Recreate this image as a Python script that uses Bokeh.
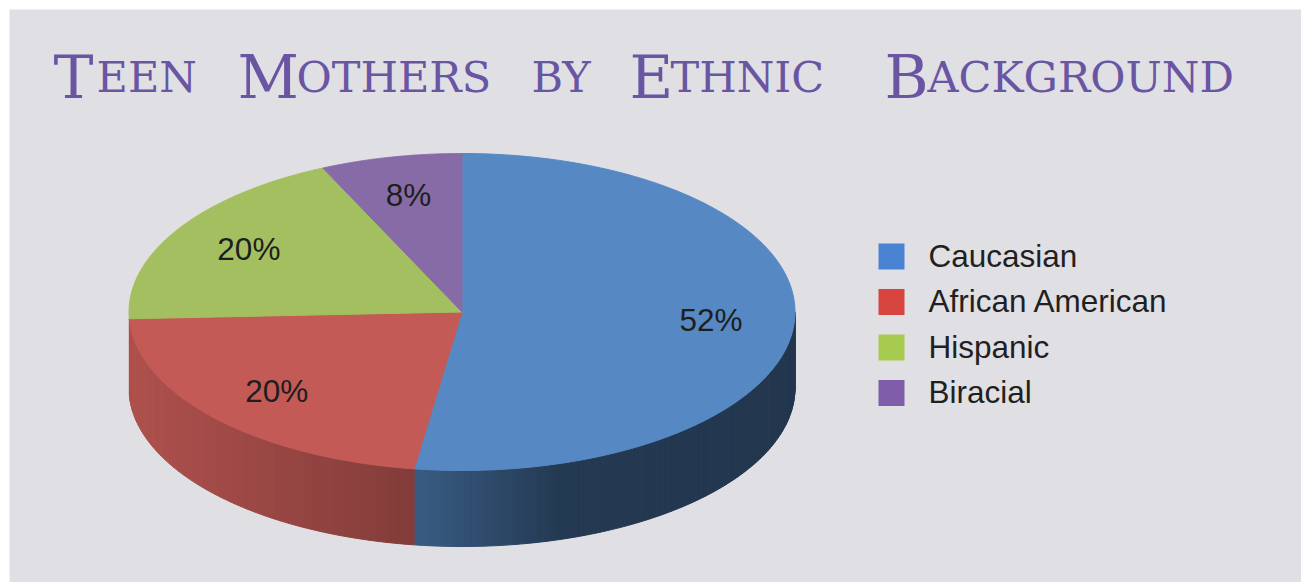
import numpy as np
from bokeh.plotting import figure
from bokeh.models import Range1d
from bokeh.core.properties import value
from bokeh.embed import file_html
from bokeh.resources import INLINE

# ---------------- data ----------------
categories = ["Caucasian", "African American", "Hispanic", "Biracial"]
percent = [52, 20, 20, 8]
labels = ["52%", "20%", "20%", "8%"]
top_colors = ["#5689c4", "#c35a56", "#a3bf5f", "#876ba7"]
legend_colors = ["#4a83d4", "#d84440", "#a6cb4f", "#7f5da8"]
title_words = ["Teen", "Mothers", "by", "Ethnic", "Background"]

# ---------------- layout constants ----------------
W, H = 1301, 582
BG = "#e0dfe4"
CX, CY, RX, RY, DEPTH = 461.5, 311.5, 333.0, 158.5, 76.0
PERSP = 8.5          # degrees of perspective warp (front of the disc looks larger)
LABEL_R = 0.75
TXT_SHIFT = 0.38     # empirical baseline correction (fraction of font size)
title_cap_x = [53, 237, None, 629, 884]
title_rest_x = [96, 296, 531, 670, 927]
TITLE_BASE = 97
CAP_SIZE, SMALL_SIZE = 60, 43
TITLE_COLOR = "#6a55a3"
LBL_SIZE = 31.5

p = figure(width=W, height=H, x_range=Range1d(0, W), y_range=Range1d(H, 0),
           output_backend="svg", toolbar_location=None, min_border=0,
           x_axis_type=None, y_axis_type=None)
p.grid.visible = False
p.outline_line_color = None
p.background_fill_color = "white"
p.border_fill_color = "white"

# gray panel
p.quad(left=[9], right=[W], top=[9], bottom=[H], fill_color=BG, line_color=None)


def warp(a):
    """true pie angle -> displayed angle on the projected ellipse"""
    return a + PERSP * np.cos(np.radians(a))


def pt(a):
    r = np.radians(a)
    return CX + RX * np.cos(r), CY - RY * np.sin(r)


def hex2rgb(h):
    h = h.lstrip("#")
    return [int(h[i:i + 2], 16) for i in (0, 2, 4)]


def shade(h, f):
    r, g, b = hex2rgb(h)
    return "#%02x%02x%02x" % tuple(int(max(0, min(255, round(c * f)))) for c in (r, g, b))


total = float(sum(percent))
cum = np.concatenate([[0], np.cumsum(percent)])
starts = warp(90 - 360 * cum[:-1] / total)
ends = warp(90 - 360 * cum[1:] / total)

# ---------------- sides ----------------
sx, sy, sc = [], [], []
for i in range(len(percent)):
    a0, a1 = starts[i], ends[i]  # a0 > a1 (clockwise)
    for lo, hi in [(-180, 0), (-540, -360)]:
        s_hi, s_lo = min(a0, hi), max(a1, lo)
        if s_hi <= s_lo:
            continue
        # skip sub-pixel wide wall pieces
        if abs(pt(s_hi)[0] - pt(s_lo)[0]) < 1.0:
            continue
        n = max(2, int(np.ceil((s_hi - s_lo) / 0.8)))
        angs = np.linspace(s_hi, s_lo, n + 1)
        for k in range(n):
            xa, ya = pt(angs[k])
            xb, yb = pt(angs[k + 1])
            xm = (xa + xb) / 2
            f = np.interp(xm, [128, 413, 560, 795], [0.9, 0.67, 0.42, 0.40])
            sx.append([xa, xb, xb, xa])
            sy.append([ya, yb, yb + DEPTH, ya + DEPTH])
            sc.append(shade(top_colors[i], f))
p.patches(sx, sy, fill_color=sc, line_color=sc, line_width=1)

# ---------------- top slices ----------------
tx, ty = [], []
for i in range(len(percent)):
    angs = np.linspace(starts[i], ends[i], 200)
    xs, ys = pt(angs)
    tx.append([CX] + list(xs))
    ty.append([CY] + list(ys))
p.patches(tx, ty, fill_color=top_colors, line_color=top_colors, line_width=1)

# ---------------- data labels ----------------
mids = (starts + ends) / 2
lx = CX + LABEL_R * RX * np.cos(np.radians(mids))
ly = CY - LABEL_R * RY * np.sin(np.radians(mids))
cap_half = 0.716 * LBL_SIZE / 2
p.text(x=lx, y=ly + cap_half - TXT_SHIFT * LBL_SIZE, text=labels, text_align="center",
       text_baseline="alphabetic", text_font=value("Liberation Sans"),
       text_font_size=value(f"{LBL_SIZE}px"), text_color="#1e1e1e")

# ---------------- legend ----------------
LEG_X, LEG_Y0, LEG_DY, SQ = 878, 256, 45.5, 26
ly_leg = [LEG_Y0 + i * LEG_DY for i in range(len(categories))]
p.quad(left=[LEG_X] * 4, right=[LEG_X + SQ] * 4,
       top=[y - SQ / 2 for y in ly_leg], bottom=[y + SQ / 2 for y in ly_leg],
       fill_color=legend_colors, line_color=None)
p.text(x=[928] * 4, y=[y + cap_half - TXT_SHIFT * LBL_SIZE for y in ly_leg], text=categories,
       text_align="left", text_baseline="alphabetic",
       text_font=value("Liberation Sans"), text_font_size=value(f"{LBL_SIZE}px"),
       text_color="#231f20")

# ---------------- title (small caps) ----------------
cap_x, cap_t, rest_x, rest_t = [], [], [], []
for w, xc, xr in zip(title_words, title_cap_x, title_rest_x):
    if w[0].isupper():
        cap_x.append(xc)
        cap_t.append(w[0])
        rest_t.append(w[1:].upper())
    else:
        rest_t.append(w.upper())
    rest_x.append(xr)
base = TITLE_BASE - 0.35 * CAP_SIZE
p.text(x=cap_x, y=[base] * len(cap_x), text=cap_t, text_align="left",
       text_baseline="alphabetic", text_font=value("DejaVu Serif"),
       text_font_size=value(f"{CAP_SIZE}px"), text_color=TITLE_COLOR)
p.text(x=rest_x, y=[base] * len(rest_x), text=rest_t, text_align="left",
       text_baseline="alphabetic", text_font=value("DejaVu Serif"),
       text_font_size=value(f"{SMALL_SIZE}px"), text_color=TITLE_COLOR)

open("out.html", "w").write(file_html(p, INLINE))
